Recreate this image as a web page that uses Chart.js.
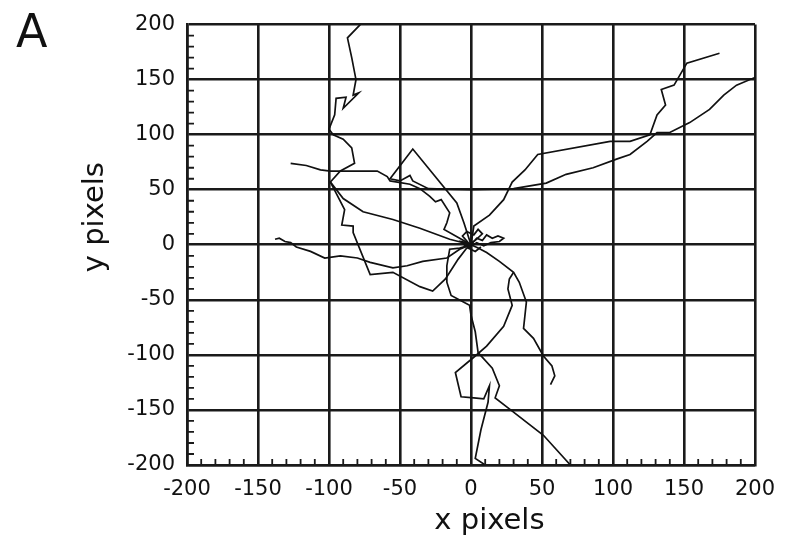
<!DOCTYPE html>
<html lang="en">
<head>
<meta charset="UTF-8">
<title>Cell tracks: x / y pixels</title>
<script src="https://cdn.jsdelivr.net/npm/chart.js"></script>
<style>
  html, body { margin: 0; padding: 0; background: #fff; }
  #wrap { width: 797px; height: 535px; }
</style>
</head>
<body>
<div id="wrap"><canvas id="tracksChart" width="797" height="535"></canvas></div>
<script>
// axis ticks
const axisTicks = [-200, -150, -100, -50, 0, 50, 100, 150, 200];

// tracks, [x, y] in pixels
const trackUpLeft = [[-78,200],[-87,188],[-84,170],[-81,150],[-83,136],[-79,138],[-90,124],[-88,134],[-95,133],[-96,118],[-100,105],[-97,100],[-90,96],[-84,88],[-82,74],[-92,67],[-99,57],[-90,42],[-76,30],[-55,23],[-36,15],[-15,5],[0,0]];
const trackLeftHigh = [[-127,74],[-116,72],[-106,68],[-99,67],[-66,67],[-59,62],[-57,58],[-43,55],[-36,51],[-29,44],[-25,39],[-21,41],[-15,29],[-17,20],[-19,14],[-8,6],[0,0]];
const trackLoopNE = [[0,0],[-5,20],[-10,38],[-41,87],[-57,60],[-50,58],[-43,63],[-41,58],[-30,51],[0,50],[30,51],[53,56],[67,64],[86,70],[103,78],[112,82],[124,94],[131,102],[140,102],[154,111],[168,123],[178,136],[187,145],[200,152]];
const trackNE = [[0,0],[2,17],[13,27],[23,41],[29,57],[38,68],[47,82],[98,94],[112,94],[126,100],[131,118],[137,127],[134,141],[143,145],[152,165],[175,174]];
const trackWiggle = [[-99,57],[-89,32],[-91,18],[-83,17],[-83,11],[-71,-27],[-55,-25],[-36,-38],[-27,-42],[-18,-31],[-9,-13],[-3,-3],[0,0]];
const trackLeftLow = [[-138,5],[-135,6],[-131,3],[-127,2],[-123,-2],[-113,-6],[-103,-12],[-92,-10],[-80,-12],[-71,-16],[-55,-21],[-45,-19],[-34,-15],[-17,-12],[-8,-4],[0,0]];
const trackDown1 = [[0,0],[-8,-3],[-15,-4],[-17,-19],[-17,-34],[-14,-46],[-1,-55],[0,-64],[3,-79],[5,-98],[15,-112],[20,-128],[17,-139],[27,-149],[51,-173],[70,-200]];
const trackDown2 = [[0,0],[5,-3],[11,-7],[20,-15],[30,-25],[34,-34],[39,-52],[37,-76],[44,-85],[51,-101],[57,-110],[59,-119],[56,-127]];
const trackDown3 = [[30,-25],[27,-31],[26,-40],[29,-55],[23,-74],[11,-92],[3,-101],[-11,-116],[-7,-138],[2,-139],[9,-140],[13,-128],[12,-143],[7,-168],[3,-194],[10,-200]];
const trackKnot1 = [[0,0],[4,6],[8,4],[11,9],[15,6],[19,8],[23,6],[20,3],[14,2],[9,-1],[4,2],[-2,-3],[3,-6],[7,-2]];
const trackKnot2 = [[-2,2],[-6,8],[-3,12],[2,9],[5,14],[8,10],[3,4],[-4,-1],[-7,3],[1,1]];

const tracks = [trackUpLeft, trackLeftHigh, trackLoopNE, trackNE, trackWiggle, trackLeftLow,
                trackDown1, trackDown2, trackDown3, trackKnot1, trackKnot2];

const ink = '#1a1a1a';
const fontFamily = '"DejaVu Sans", sans-serif';

// little inward ticks every 10 px on the left and bottom axes, plus panel letter
const minorTicks = {
    id: 'minorTicks',
    afterDraw(chart) {
        const { ctx, chartArea, scales: { x, y } } = chart;
        ctx.save();
        ctx.strokeStyle = ink;
        ctx.lineWidth = 1.8;
        ctx.beginPath();
        for (let v = -190; v < 200; v += 10) {
            if (v % 50 === 0) continue;
            const px = x.getPixelForValue(v);
            ctx.moveTo(px, chartArea.bottom);
            ctx.lineTo(px, chartArea.bottom - 6);
            const py = y.getPixelForValue(v);
            ctx.moveTo(chartArea.left, py);
            ctx.lineTo(chartArea.left + 7, py);
        }
        ctx.stroke();
        ctx.fillStyle = '#111';
        ctx.font = '46px ' + fontFamily;
        ctx.textBaseline = 'alphabetic';
        ctx.fillText('A', 16, 47);
        ctx.restore();
    }
};

function axis(title, titlePad) {
    return {
        type: 'linear',
        min: axisTicks[0],
        max: axisTicks[axisTicks.length - 1],
        afterBuildTicks: scale => { scale.ticks = axisTicks.map(v => ({ value: v })); },
        ticks: { color: '#111', font: { family: fontFamily, size: 21 }, padding: 12 },
        grid: { color: ink, lineWidth: 2.6, drawTicks: false },
        border: { display: true, color: ink, width: 2.6 },
        title: { display: true, text: title, color: '#111', font: { family: fontFamily, size: 29 }, padding: titlePad }
    };
}

const xAxis = axis('    x pixels', { top: 0, bottom: -4 });
xAxis.afterFit = scale => { scale.height = 70; };
const yAxis = axis('      y pixels', { top: 78, bottom: 0 });
yAxis.afterFit = scale => { scale.width = 187; };

new Chart(document.getElementById('tracksChart'), {
    type: 'scatter',
    data: {
        datasets: tracks.map(t => ({
            data: t.map(p => ({ x: p[0], y: p[1] })),
            showLine: true,
            borderColor: '#111',
            borderWidth: 1.7,
            pointRadius: 0,
            tension: 0
        }))
    },
    options: {
        responsive: false,
        animation: false,
        layout: { padding: { top: 19, right: 42, left: 0, bottom: 0 } },
        plugins: { legend: { display: false }, tooltip: { enabled: false } },
        scales: { x: xAxis, y: yAxis }
    },
    plugins: [minorTicks]
});
</script>
</body>
</html>
